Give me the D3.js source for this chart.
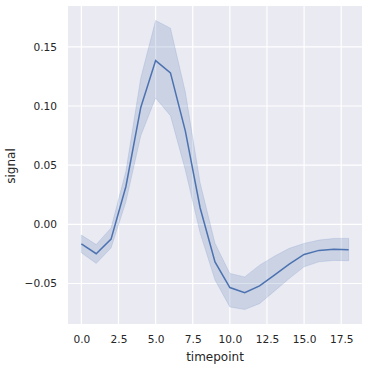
<!DOCTYPE html>
<html>
<head>
<meta charset="utf-8">
<script src="https://cdn.jsdelivr.net/npm/d3@7"></script>
<style>
  body { margin: 0; background: #fff; }
  svg text { font-family: "DejaVu Sans", sans-serif; fill: #262626; }
</style>
</head>
<body>
<svg id="chart" width="369" height="369"></svg>
<script>
  // timepoints and mean signal with the confidence band
  const timepoints = [0, 1, 2, 3, 4, 5, 6, 7, 8, 9, 10, 11, 12, 13, 14, 15, 16, 17, 18];
  const meanSignal = [-0.0164, -0.0248, -0.0125, 0.0320, 0.0988, 0.1384, 0.1280, 0.0790, 0.0138,
    -0.0317, -0.0534, -0.0578, -0.0520, -0.0430, -0.0336, -0.0254, -0.0220, -0.0210, -0.0215];
  const upperCI = [-0.0091, -0.0170, -0.0030, 0.0450, 0.1237, 0.1723, 0.1658, 0.1120, 0.0350,
    -0.0160, -0.0415, -0.0444, -0.0345, -0.0269, -0.0203, -0.0161, -0.0133, -0.0119, -0.0119];
  const lowerCI = [-0.0240, -0.0330, -0.0200, 0.0190, 0.0748, 0.1068, 0.0918, 0.0460, -0.0074,
    -0.0470, -0.0698, -0.0720, -0.0670, -0.0565, -0.0458, -0.0359, -0.0317, -0.0305, -0.0307];
  const xTicks = [0, 2.5, 5, 7.5, 10, 12.5, 15, 17.5];
  const yTicks = [-0.05, 0, 0.05, 0.10, 0.15];

  const rows = timepoints.map((t, i) => ({ t, m: meanSignal[i], lo: lowerCI[i], hi: upperCI[i] }));

  const svg = d3.select("#chart");
  const margin = { top: 6, right: 7, bottom: 45, left: 68 };
  const innerWidth = 369 - margin.left - margin.right;
  const innerHeight = 369 - margin.top - margin.bottom;

  const g = svg.append("g")
    .attr("transform", `translate(${margin.left}, ${margin.top})`);

  // matplotlib style 5% margins
  const xPad = 18 * 0.05;
  const yMin = d3.min(lowerCI), yMax = d3.max(upperCI);
  const yPad = (yMax - yMin) * 0.05;

  const x = d3.scaleLinear()
    .domain([0 - xPad, 18 + xPad])
    .range([0, innerWidth]);

  const y = d3.scaleLinear()
    .domain([yMin - yPad, yMax + yPad])
    .range([innerHeight, 0]);

  g.append("rect")
    .attr("width", innerWidth)
    .attr("height", innerHeight)
    .attr("fill", "#eaeaf2");

  // grid
  g.selectAll(".vgrid")
    .data(xTicks)
    .enter()
    .append("line")
    .attr("x1", d => x(d)).attr("x2", d => x(d))
    .attr("y1", 0).attr("y2", innerHeight)
    .attr("stroke", "#fff").attr("stroke-width", 1.2);

  g.selectAll(".hgrid")
    .data(yTicks)
    .enter()
    .append("line")
    .attr("y1", d => y(d)).attr("y2", d => y(d))
    .attr("x1", 0).attr("x2", innerWidth)
    .attr("stroke", "#fff").attr("stroke-width", 1.2);

  // band
  g.append("path")
    .datum(rows)
    .attr("fill", "#4c72b0")
    .attr("fill-opacity", 0.2)
    .attr("stroke", "#4c72b0")
    .attr("stroke-opacity", 0.2)
    .attr("stroke-width", 0.8)
    .attr("d", d3.area().x(d => x(d.t)).y0(d => y(d.lo)).y1(d => y(d.hi)));

  // mean line
  g.append("path")
    .datum(rows)
    .attr("fill", "none")
    .attr("stroke", "#4c72b0")
    .attr("stroke-width", 1.5)
    .attr("d", d3.line().x(d => x(d.t)).y(d => y(d.m)));

  // axes (tick text only, seaborn darkgrid has no spines)
  const xAxis = g.append("g")
    .attr("transform", `translate(0, ${innerHeight})`)
    .call(d3.axisBottom(x).tickValues(xTicks).tickFormat(d3.format(".1f")).tickSize(0).tickPadding(11));
  const yAxis = g.append("g")
    .call(d3.axisLeft(y).tickValues(yTicks).tickFormat(d => d3.format(".2f")(d).replace("-", "\u2212")).tickSize(0).tickPadding(11));

  [xAxis, yAxis].forEach(a => {
    a.select(".domain").remove();
    a.selectAll("text").attr("font-size", "10.6px").attr("fill", "#262626")
      .attr("font-family", "DejaVu Sans, sans-serif");
  });

  svg.append("text")
    .attr("x", margin.left + innerWidth / 2)
    .attr("y", 361)
    .attr("text-anchor", "middle")
    .attr("font-size", "12px")
    .text("timepoint");

  svg.append("text")
    .attr("transform", `translate(15, ${margin.top + innerHeight / 2 + 1}) rotate(-90)`)
    .attr("text-anchor", "middle")
    .attr("font-size", "12px")
    .text("signal");
</script>
</body>
</html>
